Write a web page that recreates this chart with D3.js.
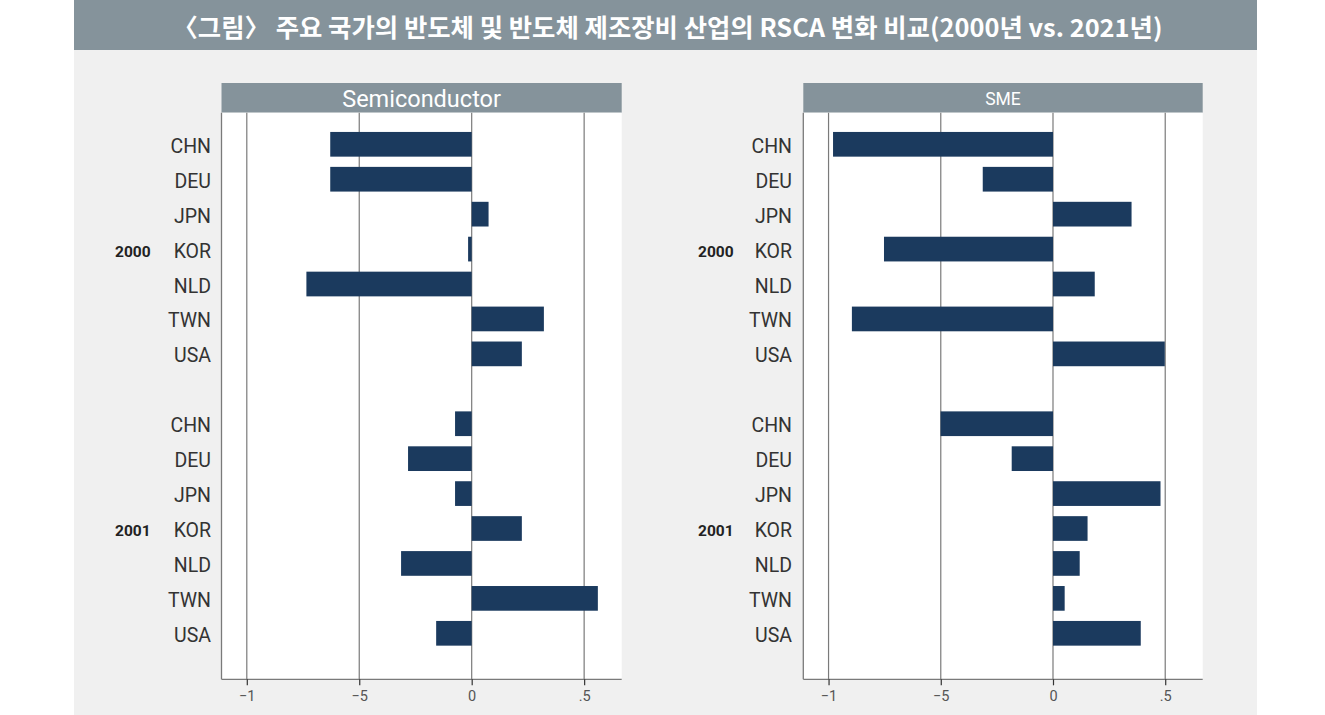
<!DOCTYPE html>
<html>
<head>
<meta charset="utf-8">
<script src="https://cdn.jsdelivr.net/npm/d3@7"></script>
<style>
  html, body { margin: 0; padding: 0; background: #ffffff; }
  svg { display: block; }
</style>
</head>
<body>
<svg id="chart" width="1325" height="715"></svg>
<script>
// ---- data ----
const titleText = "〈그림〉 주요 국가의 반도체 및 반도체 제조장비 산업의 RSCA 변화 비교(2000년 vs. 2021년)";
const panelNames = ["Semiconductor", "SME"];
const years = ["2000", "2001"];
const countries = ["CHN", "DEU", "JPN", "KOR", "NLD", "TWN", "USA"];
const semi2000 = [-0.629, -0.629, 0.075, -0.016, -0.735, 0.321, 0.223];
const semi2001 = [-0.074, -0.283, -0.074, 0.223, -0.314, 0.561, -0.158];
const sme2000 = [-0.980, -0.313, 0.350, -0.753, 0.186, -0.896, 0.498];
const sme2001 = [-0.501, -0.184, 0.479, 0.154, 0.119, 0.052, 0.391];
const tickValues = [-1, -0.5, 0, 0.5];
const tickLabels = ["\u22121", "\u22125", "0", ".5"];

// ---- layout ----
const svg = d3.select("#chart");
const W = 1325, H = 715;
const frameL = 74, frameR = 1257, titleH = 50;
const barColor = "#1b3a5e";
const headColor = "#85939b";
const gridColor = "#7a7a7a";

svg.append("rect").attr("x", 0).attr("y", 0).attr("width", W).attr("height", H).attr("fill", "#ffffff");
svg.append("rect").attr("x", frameL).attr("y", titleH).attr("width", frameR - frameL).attr("height", H - titleH).attr("fill", "#f0f0f0");
svg.append("rect").attr("x", frameL).attr("y", 0).attr("width", frameR - frameL).attr("height", titleH).attr("fill", headColor);
svg.append("text")
  .attr("x", (frameL + frameR) / 2 + 2).attr("y", 26)
  .attr("text-anchor", "middle").attr("dominant-baseline", "central")
  .attr("fill", "#ffffff")
  .style("font-family", "'Noto Sans CJK KR', 'Noto Sans', sans-serif")
  .style("font-weight", 700).style("font-size", "25px")
  .attr("textLength", 990).attr("lengthAdjust", "spacingAndGlyphs")
  .text(titleText);

const panels = [
  { name: panelNames[0], data: [semi2000, semi2001], left: 221.5, right: 621.7, headSize: 23.5, labelRight: 211, yearX: 115 },
  { name: panelNames[1], data: [sme2000, sme2001], left: 803.3, right: 1202.7, headSize: 17.5, labelRight: 792, yearX: 698 }
];

const headTop = 83, plotTop = 112.7, plotBottom = 679.3;
// row index: 2000 rows 0..6, gap at 7, 2001 rows 8..14
const y = d3.scaleLinear().domain([0, 14]).range([144.3, 633.3]);
const barH = 24.7;

panels.forEach(p => {
  const x = d3.scaleLinear().domain([-1.1125, 0.667]).range([p.left, p.right]);
  const g = svg.append("g");

  // header
  g.append("rect").attr("x", p.left).attr("y", headTop).attr("width", p.right - p.left).attr("height", plotTop - headTop).attr("fill", headColor);
  g.append("text")
    .attr("x", (p.left + p.right) / 2).attr("y", (headTop + plotTop) / 2 + 1)
    .attr("text-anchor", "middle").attr("dominant-baseline", "central")
    .attr("fill", "#ffffff")
    .style("font-family", "Roboto, 'Noto Sans', sans-serif")
    .style("font-size", p.headSize + "px")
    .text(p.name);

  // plot area
  g.append("rect").attr("x", p.left).attr("y", plotTop).attr("width", p.right - p.left).attr("height", plotBottom - plotTop).attr("fill", "#ffffff");

  // gridlines
  g.selectAll("line.grid").data(tickValues).enter().append("line")
    .attr("x1", d => x(d)).attr("x2", d => x(d))
    .attr("y1", plotTop).attr("y2", plotBottom)
    .attr("stroke", gridColor).attr("stroke-width", 1.2);

  // bars
  const rows = [];
  p.data.forEach((vals, yi) => {
    vals.forEach((v, ci) => rows.push({ v, idx: yi * 8 + ci }));
  });
  g.selectAll("rect.bar").data(rows).enter().append("rect")
    .attr("x", d => x(Math.min(0, d.v)))
    .attr("width", d => Math.abs(x(d.v) - x(0)))
    .attr("y", d => y(d.idx) - barH / 2)
    .attr("height", barH)
    .attr("fill", barColor);

  // axes
  const xAxis = d3.axisBottom(x).tickValues(tickValues).tickSize(6).tickPadding(5)
    .tickFormat((d, i) => tickLabels[i]);
  const ax = g.append("g").attr("transform", `translate(0,${plotBottom})`).call(xAxis);
  ax.select(".domain").attr("d", `M${p.left},0H${p.right}`).attr("stroke", gridColor).attr("stroke-width", 1.3);
  ax.selectAll(".tick line").attr("stroke", "#333").attr("stroke-width", 1.2);
  ax.selectAll(".tick text").attr("fill", "#555").style("font-family", "Roboto, sans-serif").style("font-size", "14.5px");

  g.append("line").attr("x1", p.left).attr("x2", p.left).attr("y1", plotTop).attr("y2", plotBottom)
    .attr("stroke", gridColor).attr("stroke-width", 1.3);

  // row labels
  years.forEach((yr, yi) => {
    g.selectAll(null).data(countries).enter().append("text")
      .attr("x", p.labelRight).attr("y", (d, ci) => y(yi * 8 + ci) + 2)
      .attr("text-anchor", "end").attr("dominant-baseline", "central")
      .attr("fill", "#333")
      .style("font-family", "Roboto, sans-serif").style("font-size", "19.5px")
      .text(d => d);
    g.append("text")
      .attr("x", p.yearX).attr("y", y(yi * 8 + 3) + 2.5)
      .attr("dominant-baseline", "central")
      .attr("fill", "#222")
      .style("font-family", "Roboto, sans-serif").style("font-weight", 700).style("font-size", "15.5px")
      .text(yr);
  });
});
</script>
</body>
</html>
